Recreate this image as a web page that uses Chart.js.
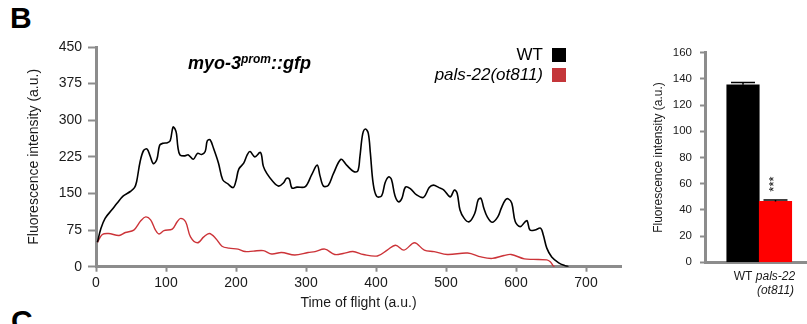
<!DOCTYPE html>
<html>
<head>
<meta charset="utf-8">
<script src="https://cdn.jsdelivr.net/npm/chart.js@4.4.1/dist/chart.umd.min.js"></script>
<style>
  html, body { margin: 0; padding: 0; background: #fff; }
  body { width: 807px; height: 324px; position: relative; overflow: hidden;
         font-family: "Liberation Sans", Arial, sans-serif; color: #000; }
  #line { position: absolute; left: 0; top: 0; }
  #bars { position: absolute; left: 640px; top: 0; }
  .panel { position: absolute; font-weight: bold; font-size: 30px; line-height: 30px; }
  #title { position: absolute; left: 188px; top: 50px; font-size: 18px; line-height: 18px;
           font-weight: bold; font-style: italic; white-space: nowrap; }
  #title span { font-size: 12px; vertical-align: 6px; }
  #legend { position: absolute; right: 241px; top: 45px; font-size: 17px; }
  .row { display: flex; justify-content: flex-end; align-items: center; height: 20px; white-space: nowrap; }
  .box { display: inline-block; width: 14px; height: 14px; margin-left: 9px; }
</style>
</head>
<body>
<div class="panel" style="left:10px; top:3px;">B</div>
<div class="panel" style="left:11px; top:306px;">C</div>
<canvas id="line" width="640" height="324"></canvas>
<canvas id="bars" width="167" height="324"></canvas>
<div id="title">myo-3<span>prom</span>::gfp</div>
<div id="legend">
  <div class="row">WT<i class="box" style="background:#000"></i></div>
  <div class="row"><em>pals-22(ot811)</em><i class="box" style="background:#c4363a"></i></div>
</div>
<script>
// time of flight profile, WT
const wtTime = [2, 7, 13, 23, 30, 39, 49, 55, 58, 63, 68, 73, 77, 82, 87, 91, 96, 102, 106, 110,
  113, 115, 117, 120, 127, 132, 139, 145, 151, 156, 159, 163, 168, 175, 181, 188, 196, 200, 204, 211,
  216, 220, 227, 235, 239, 244, 253, 261, 268, 272, 276, 280, 287, 299, 308, 316, 320, 325, 332, 339,
  350, 358, 368, 374, 377, 381, 385, 389, 392, 396, 401, 408, 413, 418, 422, 427, 432, 437, 442, 449,
  458, 468, 476, 482, 490, 497, 506, 512, 516, 520, 526, 533, 541, 546, 550, 554, 559, 566, 574, 579,
  585, 589, 594, 599, 606, 613, 616, 620, 627, 635, 639, 644, 651, 661, 670, 675];
const wtIntensity = [50, 78, 99, 117, 130, 145, 154, 162, 174, 215, 238, 241, 228, 211, 220, 249, 253, 254, 258, 286,
  282, 272, 245, 229, 227, 229, 220, 232, 230, 236, 258, 260, 242, 212, 178, 170, 162, 176, 200, 212,
  229, 236, 225, 234, 206, 191, 174, 165, 172, 181, 180, 161, 163, 164, 188, 208, 186, 165, 167, 190,
  220, 208, 195, 196, 225, 272, 282, 273, 232, 170, 144, 145, 172, 184, 179, 146, 133, 140, 163, 160,
  147, 142, 162, 167, 162, 157, 143, 157, 150, 116, 99, 92, 109, 137, 140, 120, 102, 91, 102, 120,
  137, 139, 130, 92, 82, 92, 94, 75, 75, 79, 65, 38, 20, 8, 2, 0];

// pals-22(ot811)
const palsTime = [2, 9, 18, 33, 42, 54, 64, 71, 78, 85, 90, 97, 109, 116, 121, 128, 135, 145, 154, 162,
  171, 180, 190, 203, 213, 225, 239, 251, 265, 284, 303, 313, 327, 341, 353, 367, 382, 402, 416, 428,
  440, 455, 469, 483, 502, 531, 550, 566, 583, 593, 612, 625, 644, 649, 653, 655];
const palsIntensity = [50, 66, 68, 64, 70, 75, 94, 102, 96, 75, 67, 74, 77, 92, 99, 92, 61, 49, 61, 68,
  58, 42, 38, 36, 31, 32, 33, 26, 29, 24, 29, 31, 36, 25, 27, 31, 25, 22, 34, 44,
  34, 49, 34, 31, 25, 28, 20, 17, 23, 25, 16, 15, 14, 10, 2, 0];

// mean intensity panel
const barTickLines = [['WT'], ['pals-22', '(ot811)']];
const barValues = [135.5, 46.5];
const barErrors = [1.8, 1.0];
const barColors = ['#000000', '#ff0000'];
const barMarks = ['', '***'];

const axisGray = '#8c8c8c';
Chart.defaults.font.family = '"Liberation Sans", Arial, sans-serif';
Chart.defaults.color = '#1a1a1a';

const toPoints = (xs, ys) => xs.map((x, i) => ({ x: x, y: ys[i] }));

new Chart(document.getElementById('line'), {
  type: 'line',
  data: {
    datasets: [
      { label: 'WT', data: toPoints(wtTime, wtIntensity), borderColor: '#000000', borderWidth: 1.6 },
      { label: 'pals-22(ot811)', data: toPoints(palsTime, palsIntensity), borderColor: '#cc3338', borderWidth: 1.4 },
    ],
  },
  options: {
    responsive: false,
    animation: false,
    events: [],
    layout: { padding: { left: 0, top: 47, right: 19, bottom: 0 } },
    elements: {
      point: { radius: 0 },
      line: { tension: 0.35 },
    },
    plugins: { legend: { display: false }, tooltip: { enabled: false } },
    scales: {
      x: {
        type: 'linear', min: 0, max: 750,
        ticks: { stepSize: 100, includeBounds: false, padding: 3, font: { size: 14 } },
        grid: { drawOnChartArea: false, tickLength: 5, tickWidth: 2, tickColor: axisGray },
        border: { color: axisGray, width: 3 },
        title: { display: true, text: 'Time of flight (a.u.)', font: { size: 14 }, padding: { top: 0, bottom: 12 } },
        afterFit: (s) => { s.height = 57.3; },
      },
      y: {
        min: 0, max: 450,
        ticks: { stepSize: 75, padding: 6, font: { size: 14 } },
        grid: { drawOnChartArea: false, tickLength: 8, tickWidth: 2, tickColor: axisGray },
        border: { color: axisGray, width: 3 },
        title: { display: true, text: 'Fluorescence intensity (a.u.)', font: { size: 14 }, padding: { top: 26, bottom: 0 } },
        afterFit: (s) => { s.width = 96; },
      },
    },
  },
});

const errorBars = {
  id: 'errorBars',
  afterDatasetsDraw(chart) {
    const ctx = chart.ctx;
    const y = chart.scales.y;
    ctx.save();
    chart.getDatasetMeta(0).data.forEach((bar, i) => {
      const top = y.getPixelForValue(barValues[i] + barErrors[i]);
      ctx.strokeStyle = '#000';
      ctx.lineWidth = 1.5;
      ctx.beginPath();
      ctx.moveTo(bar.x, bar.y);
      ctx.lineTo(bar.x, top);
      ctx.moveTo(bar.x - 12, top);
      ctx.lineTo(bar.x + 12, top);
      ctx.stroke();
      if (barMarks[i]) {
        ctx.translate(bar.x - 1, top - 16);
        ctx.rotate(-Math.PI / 2);
        ctx.fillStyle = '#000';
        ctx.font = '13px "Liberation Sans", Arial, sans-serif';
        ctx.textAlign = 'center';
        ctx.textBaseline = 'middle';
        ctx.fillText(barMarks[i], 0, 0);
        ctx.setTransform(1, 0, 0, 1, 0, 0);
      }
    });
    ctx.restore();
  },
};

new Chart(document.getElementById('bars'), {
  type: 'bar',
  data: {
    datasets: [{
      data: barValues.map((v, i) => ({ x: i + 1, y: v })),
      backgroundColor: barColors,
      barPercentage: 1,
      categoryPercentage: 1,
    }],
  },
  options: {
    responsive: false,
    animation: false,
    events: [],
    layout: { padding: { left: 0, top: 52.7, right: 0, bottom: 0 } },
    plugins: { legend: { display: false }, tooltip: { enabled: false } },
    scales: {
      x: {
        type: 'linear', min: -0.17, max: 2.97, offset: false,
        afterBuildTicks: (s) => { s.ticks = barValues.map((v, i) => ({ value: i + 1 })); },
        ticks: {
          autoSkip: false, maxRotation: 0, padding: 7,
          callback: (v, i) => barTickLines[i],
          font: (c) => ({ size: 12, style: c.index === 1 ? 'italic' : 'normal' }),
        },
        grid: { drawOnChartArea: false, drawTicks: false },
        border: { color: axisGray, width: 3 },
        afterFit: (s) => { s.height = 61.7; },
      },
      y: {
        min: 0, max: 160,
        ticks: { stepSize: 20, padding: 8, font: { size: 11.5 } },
        grid: { drawOnChartArea: false, tickLength: 5, tickWidth: 2, tickColor: axisGray },
        border: { color: axisGray, width: 3 },
        title: { display: true, text: 'Fluorescence intensity (a.u.)', font: { size: 12 }, padding: { top: 11, bottom: 0 } },
        afterFit: (s) => { s.width = 65; },
      },
    },
  },
  plugins: [errorBars],
});
</script>
</body>
</html>
